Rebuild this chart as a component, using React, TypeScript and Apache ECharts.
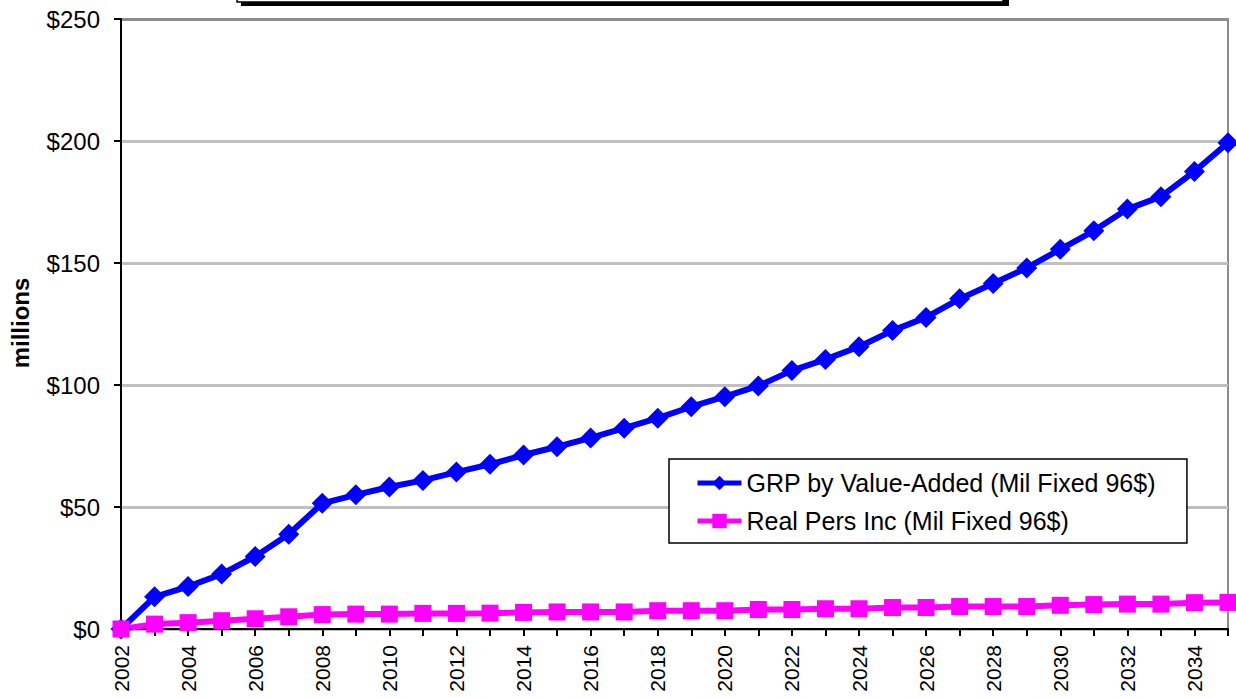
import React, { useEffect, useRef } from "react";
import * as echarts from "echarts";

const years = [
  "2002", "2003", "2004", "2005", "2006", "2007", "2008", "2009", "2010", "2011",
  "2012", "2013", "2014", "2015", "2016", "2017", "2018", "2019", "2020", "2021",
  "2022", "2023", "2024", "2025", "2026", "2027", "2028", "2029", "2030", "2031",
  "2032", "2033", "2034", "2035",
];

const grpValueAdded = [
  0, 13.2, 17.4, 22.5, 29.7, 38.8, 51.5, 55.0, 58.2, 60.9,
  64.3, 67.5, 71.3, 74.7, 78.3, 82.3, 86.4, 91.1, 95.2, 99.6,
  105.9, 110.5, 115.7, 122.3, 127.7, 135.3, 141.6, 148.0, 155.6, 163.2,
  172.1, 177.2, 187.5, 199.3,
];

const realPersInc = [
  0, 2.0, 2.6, 3.4, 4.2, 5.0, 5.9, 6.1, 6.1, 6.4,
  6.4, 6.5, 6.8, 7.0, 7.0, 7.0, 7.5, 7.5, 7.5, 8.0,
  8.0, 8.3, 8.3, 8.8, 8.8, 9.2, 9.2, 9.2, 9.7, 10.0,
  10.2, 10.2, 10.8, 10.9,
];

const seriesNames = ["GRP by Value-Added (Mil Fixed 96$)", "Real Pers Inc (Mil Fixed 96$)"];
const yTicks = { min: 0, max: 250, interval: 50 };
const yAxisTitle = "millions";

const FONT = "'Liberation Sans', Arial, Helvetica, sans-serif";

export default function App() {
  const ref = useRef<HTMLDivElement>(null);

  useEffect(() => {
    if (!ref.current) return;
    const chart = echarts.init(ref.current, null, { renderer: "svg" });
    chart.setOption({
      animation: false,
      backgroundColor: "#ffffff",
      textStyle: { fontFamily: FONT },
      grid: {
        left: 121,
        right: 8,
        top: 19,
        bottom: 69,
        containLabel: false,
        show: true,
        borderColor: "#8c8c8c",
        borderWidth: 2,
        backgroundColor: "transparent",
      },
      legend: {
        orient: "vertical",
        left: 669,
        top: 459,
        padding: [10, 31, 8, 26],
        itemWidth: 44,
        itemHeight: 18,
        itemGap: 10,
        itemTextGap: 6,
        borderColor: "#000000",
        borderWidth: 1.5,
        backgroundColor: "#ffffff",
        lineStyle: { width: 5 },
        textStyle: { fontSize: 25, color: "#000000", fontFamily: FONT, lineHeight: 28 },
        data: seriesNames,
      },
      xAxis: {
        type: "category",
        data: years,
        boundaryGap: false,
        axisLine: { show: true, lineStyle: { color: "#000000", width: 2 } },
        axisTick: {
          show: true,
          interval: 0,
          inside: false,
          length: 7,
          lineStyle: { color: "#000000", width: 2 },
        },
        axisLabel: {
          interval: 1,
          rotate: 90,
          fontSize: 21,
          color: "#000000",
          margin: 16,
          fontFamily: FONT,
        },
        splitLine: { show: false },
      },
      yAxis: {
        type: "value",
        min: yTicks.min,
        max: yTicks.max,
        interval: yTicks.interval,
        axisLine: { show: true, lineStyle: { color: "#000000", width: 2 } },
        axisTick: { show: true, inside: false, length: 7, lineStyle: { color: "#000000", width: 2 } },
        axisLabel: {
          formatter: (v: number) => "$" + v,
          fontSize: 24,
          color: "#000000",
          margin: 21,
          fontFamily: FONT,
        },
        splitLine: {
          show: true,
          lineStyle: {
            color: ["#C0C0C0", "#C0C0C0", "#C0C0C0", "#C0C0C0", "#C0C0C0", "#8c8c8c"],
            width: 3,
          },
        },
      },
      graphic: [
        {
          type: "rect",
          z: 100,
          shape: { x: 241, y: -50, width: 768, height: 56 },
          style: { fill: "#000000" },
        },
        {
          type: "rect",
          z: 101,
          shape: { x: 237, y: -50, width: 766, height: 52 },
          style: { fill: "#ffffff", stroke: "#000000", lineWidth: 1.5 },
        },
        {
          type: "text",
          z: 100,
          x: 20,
          y: 323,
          rotation: Math.PI / 2,
          style: {
            text: yAxisTitle,
            fontSize: 24,
            fontWeight: "bold",
            fontFamily: FONT,
            fill: "#000000",
            textAlign: "center",
            textVerticalAlign: "middle",
            align: "center",
            verticalAlign: "middle",
          },
        },
      ],
      series: [
        {
          name: seriesNames[0],
          type: "line",
          data: grpValueAdded,
          symbol: "diamond",
          symbolSize: 21,
          lineStyle: { color: "#0000FF", width: 6 },
          itemStyle: { color: "#0000FF" },
          emphasis: { disabled: true },
        },
        {
          name: seriesNames[1],
          type: "line",
          data: realPersInc,
          symbol: "rect",
          symbolSize: 17,
          lineStyle: { color: "#FF00FF", width: 6 },
          itemStyle: { color: "#FF00FF" },
          emphasis: { disabled: true },
        },
      ],
    });
    return () => chart.dispose();
  }, []);

  return (
    <div
      ref={ref}
      style={{ position: "absolute", left: 0, top: 0, width: 1236, height: 698 }}
    />
  );
}
